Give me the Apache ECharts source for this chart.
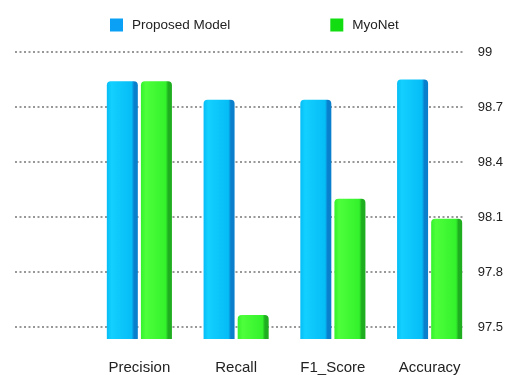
<!DOCTYPE html>
<html>
<head>
<meta charset="utf-8">
<script src="https://cdn.jsdelivr.net/npm/echarts@6/dist/echarts.min.js"></script>
<style>
  html, body { margin: 0; padding: 0; background: #fff; }
  #chart { width: 506px; height: 375px; }
</style>
</head>
<body>
<div id="chart"></div>
<script>
// data
const categories = ['Precision', 'Recall', 'F1_Score', 'Accuracy'];
const proposedModel = [98.84, 98.74, 98.74, 98.85];
const myoNet = [98.84, 97.565, 98.2, 98.09];
const seriesNames = ['Proposed Model', 'MyoNet'];

const FONT = '"Liberation Sans", Arial, sans-serif';

// 3d-ish bar shading, left to right
function barShade(light, mid, dark) {
  return new echarts.graphic.LinearGradient(0, 0, 1, 0, [
    { offset: 0, color: mid },
    { offset: 0.15, color: light },
    { offset: 0.8, color: mid },
    { offset: 0.88, color: dark },
    { offset: 1, color: dark }
  ]);
}

const chart = echarts.init(document.getElementById('chart'));

chart.setOption({
  animation: false,
  legend: {
    top: 13,
    left: 105,
    itemWidth: 13,
    itemHeight: 13,
    itemGap: 100,
    icon: 'rect',
    textStyle: { fontFamily: FONT, fontSize: 13.5, color: '#222', padding: [0, 0, 0, 4] },
    data: [
      { name: seriesNames[0], itemStyle: { color: '#0aa0f5' } },
      { name: seriesNames[1], itemStyle: { color: '#11dd11' } }
    ]
  },
  grid: [
    // gridlines + value labels
    { left: 15, right: 40, top: 52, bottom: 48 },
    // bars
    { left: 91, right: 28, top: 52, bottom: 36 }
  ],
  xAxis: [
    { gridIndex: 0, type: 'category', data: categories, show: false },
    {
      gridIndex: 1,
      type: 'category',
      data: categories,
      axisLine: { show: false },
      axisTick: { show: false },
      axisLabel: { margin: 21, fontFamily: FONT, fontSize: 15, color: '#222' }
    }
  ],
  yAxis: [
    {
      gridIndex: 0,
      type: 'value',
      position: 'right',
      min: 97.5,
      max: 99,
      interval: 0.3,
      axisLine: { show: false },
      axisTick: { show: false },
      axisLabel: {
        margin: 14,
        fontFamily: FONT,
        fontSize: 13,
        color: '#222',
        formatter: v => +v.toFixed(1)
      },
      splitLine: { lineStyle: { color: '#777', type: [2, 2.5], width: 1.5 } }
    },
    {
      gridIndex: 1,
      type: 'value',
      min: 97.4345,
      max: 99,
      show: false,
      splitLine: { show: false }
    }
  ],
  series: [
    {
      name: seriesNames[0],
      type: 'bar',
      xAxisIndex: 1,
      yAxisIndex: 1,
      barWidth: 31,
      barGap: '10%',
      data: proposedModel,
      itemStyle: {
        color: barShade('#12d0ff', '#06bdf6', '#0a7fcc'),
        borderRadius: [4, 4, 0, 0]
      }
    },
    {
      name: seriesNames[1],
      type: 'bar',
      xAxisIndex: 1,
      yAxisIndex: 1,
      barWidth: 31,
      data: myoNet,
      itemStyle: {
        color: barShade('#4dff3a', '#33f22c', '#1fae1f'),
        borderRadius: [4, 4, 0, 0]
      }
    }
  ]
});
</script>
</body>
</html>
